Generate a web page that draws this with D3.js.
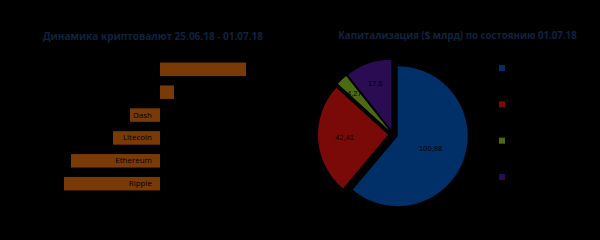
<!DOCTYPE html>
<html><head><meta charset="utf-8">
<script src="https://cdn.jsdelivr.net/npm/d3@7"></script>
<style>html,body{margin:0;padding:0;background:#000;}svg{display:block;}</style>
</head><body>
<script>
const barCategories = ["Bitcoin", "Bitcoin Cash", "Dash", "Litecoin", "Ethereum", "Ripple"];
const barValues = [8.6, 1.4, -3.0, -4.7, -8.9, -9.6];
const pieCategories = ["Bitcoin", "Ethereum", "Litecoin", "Ripple"];
const pieValues = [100.98, 42.41, 4.27, 17.6];
const pieLabels = ["100,98", "42,41", "4,27", "17,6"];
const barTitle = "Динамика криптовалют 25.06.18 - 01.07.18";
const pieTitle = "Капитализация ($ млрд) по состоянию 01.07.18";

const W = 600, H = 240;
const svg = d3.select("body").append("svg").attr("width", W).attr("height", H);
svg.append("rect").attr("width", W).attr("height", H).attr("fill", "#000");

const titleColor = "#0f2340";
const font = "Open Sans, sans-serif";

// Bar chart
svg.append("text").attr("x", 153).attr("y", 40).attr("text-anchor", "middle")
  .attr("font-family", font).attr("font-weight", "bold").attr("font-size", 10)
  .attr("fill", titleColor).text(barTitle);

const x = d3.scaleLinear().domain([-10, 10]).range([60, 260]);
const y = d3.scaleBand().domain(barCategories).range([58, 195]).paddingInner(0.41).paddingOuter(0.2);

svg.append("g").selectAll("rect").data(barValues).join("rect")
  .attr("x", d => x(Math.min(0, d)))
  .attr("width", d => Math.abs(x(d) - x(0)))
  .attr("y", (d, i) => y(barCategories[i]))
  .attr("height", y.bandwidth())
  .attr("fill", "#7a3a06");

const yAxis = d3.axisLeft(y).tickSize(0).tickPadding(8);
const ag = svg.append("g").attr("transform", `translate(${x(0)},0)`).call(yAxis);
ag.select(".domain").remove();
ag.selectAll("text").attr("font-family", font).attr("font-size", 8).attr("fill", "#000");

// Pie chart
svg.append("text").attr("x", 457.5).attr("y", 39).attr("text-anchor", "middle")
  .attr("font-family", font).attr("font-weight", "bold").attr("font-size", 9.7)
  .attr("fill", titleColor).text(pieTitle);

const colors = ["#013068", "#7a0a08", "#4c6a10", "#2a0c52"];
const cx = 393, cy = 134.5, r = 70, explode = 5;
const pie = d3.pie().sort(null).value(d => d);
const arcs = pie(pieValues);
const arc = d3.arc().innerRadius(0).outerRadius(r);
const pg = svg.append("g").attr("transform", `translate(${cx},${cy})`);
const offset = d => {
  const a = (d.startAngle + d.endAngle) / 2;
  return [Math.sin(a) * explode, -Math.cos(a) * explode];
};
pg.selectAll("path").data(arcs).join("path")
  .attr("transform", d => `translate(${offset(d)})`)
  .attr("d", arc).attr("fill", (d, i) => colors[i]);

const labelFrac = d => 0.5 + 0.25 * Math.max(0, 1 - (d.endAngle - d.startAngle) / Math.PI);
pg.selectAll("text.lbl").data(arcs).join("text").attr("class", "lbl")
  .attr("transform", d => {
    const a = (d.startAngle + d.endAngle) / 2;
    const o = offset(d);
    const rr = r * labelFrac(d);
    return `translate(${o[0] + Math.sin(a) * rr},${o[1] - Math.cos(a) * rr})`;
  })
  .attr("text-anchor", "middle").attr("dy", "0.35em")
  .attr("font-family", "Liberation Sans, Arial, sans-serif").attr("font-size", 7.5)
  .attr("fill", "#000").text((d, i) => pieLabels[i]);

// Legend
const ly = d3.scalePoint().domain(pieCategories).range([68, 177]);
const lg = svg.append("g");
lg.selectAll("rect").data(pieCategories).join("rect")
  .attr("x", 499).attr("y", d => ly(d) - 3).attr("width", 6).attr("height", 6)
  .attr("fill", (d, i) => colors[i]);
lg.selectAll("text").data(pieCategories).join("text")
  .attr("x", 509).attr("y", d => ly(d)).attr("dy", "0.35em")
  .attr("font-family", font).attr("font-size", 8).attr("fill", "#000").text(d => d);
</script>
</body></html>
